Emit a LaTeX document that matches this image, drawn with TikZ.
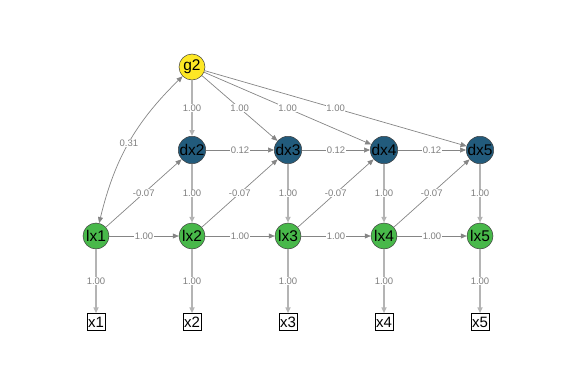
\documentclass[tikz,border=0pt]{standalone}
\usepackage{fontspec}
\setmainfont{Liberation Sans}
\usetikzlibrary{arrows.meta}
\definecolor{gy}{HTML}{FDE725}
\definecolor{db}{HTML}{225B7C}
\definecolor{gr}{HTML}{48B84A}
\definecolor{ec}{HTML}{858585}
\definecolor{ev}{HTML}{B4B4B4}
\definecolor{lc}{HTML}{808080}
\tikzset{
  x=1pt,y=1pt,
  lat/.style={circle,draw=black!75,line width=0.5pt,minimum size=26pt,inner sep=0pt,font=\fontsize{15.5}{15.5}\selectfont},
  obs/.style={rectangle,draw=black,line width=0.5pt,inner sep=1pt,minimum height=17pt,font=\fontsize{15}{15}\selectfont},
  thin/.style={draw=ec,line width=0.7pt,-{Triangle[length=6pt,width=5pt,fill=ec]}},
  thick/.style={draw=ev,line width=1.6pt,-{Triangle[length=6pt,width=5pt,fill=ec]}},
  lab/.style={fill=white,inner sep=0.5pt,text=lc,font=\fontsize{9.5}{9.5}\selectfont}
}
\begin{document}
\begin{tikzpicture}
\useasboundingbox (0,0) rectangle (576,384);
\node[lat,fill=gy] (g2) at (192,317) {g2};
\node[lat,fill=db] (dx2) at (192,234) {dx2};
\node[lat,fill=db] (dx3) at (288,234) {dx3};
\node[lat,fill=db] (dx4) at (384,234) {dx4};
\node[lat,fill=db] (dx5) at (480,234) {dx5};
\foreach \i/\x in {1/96,2/192,3/288,4/384,5/480}{
  \node[lat,fill=gr] (lx\i) at (\x,148) {lx\i};
  \node[obs] (x\i) at (\x,62) {x\i};
}
% g2 edges
\draw[thick] (g2) -- node[lab] {1.00} (dx2);
\draw[thin] (g2) -- node[lab] {1.00} (dx3);
\draw[thin] (g2) -- node[lab] {1.00} (dx4);
\draw[thin] (g2) -- node[lab] {1.00} (dx5);
% covariance
\draw[draw=ec,line width=0.7pt,{Triangle[length=6pt,width=5pt,fill=ec]}-{Triangle[length=6pt,width=5pt,fill=ec]}] (lx1) to[bend left=16] node[lab,pos=0.5] {0.31} (g2);
% dx horizontal
\draw[thin] (dx2) -- node[lab] {0.12} (dx3);
\draw[thin] (dx3) -- node[lab] {0.12} (dx4);
\draw[thin] (dx4) -- node[lab] {0.12} (dx5);
% dx -> lx
\draw[thick] (dx2) -- node[lab] {1.00} (lx2);
\draw[thick] (dx3) -- node[lab] {1.00} (lx3);
\draw[thick] (dx4) -- node[lab] {1.00} (lx4);
\draw[thick] (dx5) -- node[lab] {1.00} (lx5);
% lx -> dx diagonal
\draw[thin] (lx1) -- node[lab] {-0.07} (dx2);
\draw[thin] (lx2) -- node[lab] {-0.07} (dx3);
\draw[thin] (lx3) -- node[lab] {-0.07} (dx4);
\draw[thin] (lx4) -- node[lab] {-0.07} (dx5);
% lx horizontal
\draw[thin] (lx1) -- node[lab] {1.00} (lx2);
\draw[thin] (lx2) -- node[lab] {1.00} (lx3);
\draw[thin] (lx3) -- node[lab] {1.00} (lx4);
\draw[thin] (lx4) -- node[lab] {1.00} (lx5);
% lx -> x
\foreach \i in {1,...,5}{
  \draw[thick] (lx\i) -- node[lab] {1.00} (x\i);
}
\end{tikzpicture}
\end{document}
